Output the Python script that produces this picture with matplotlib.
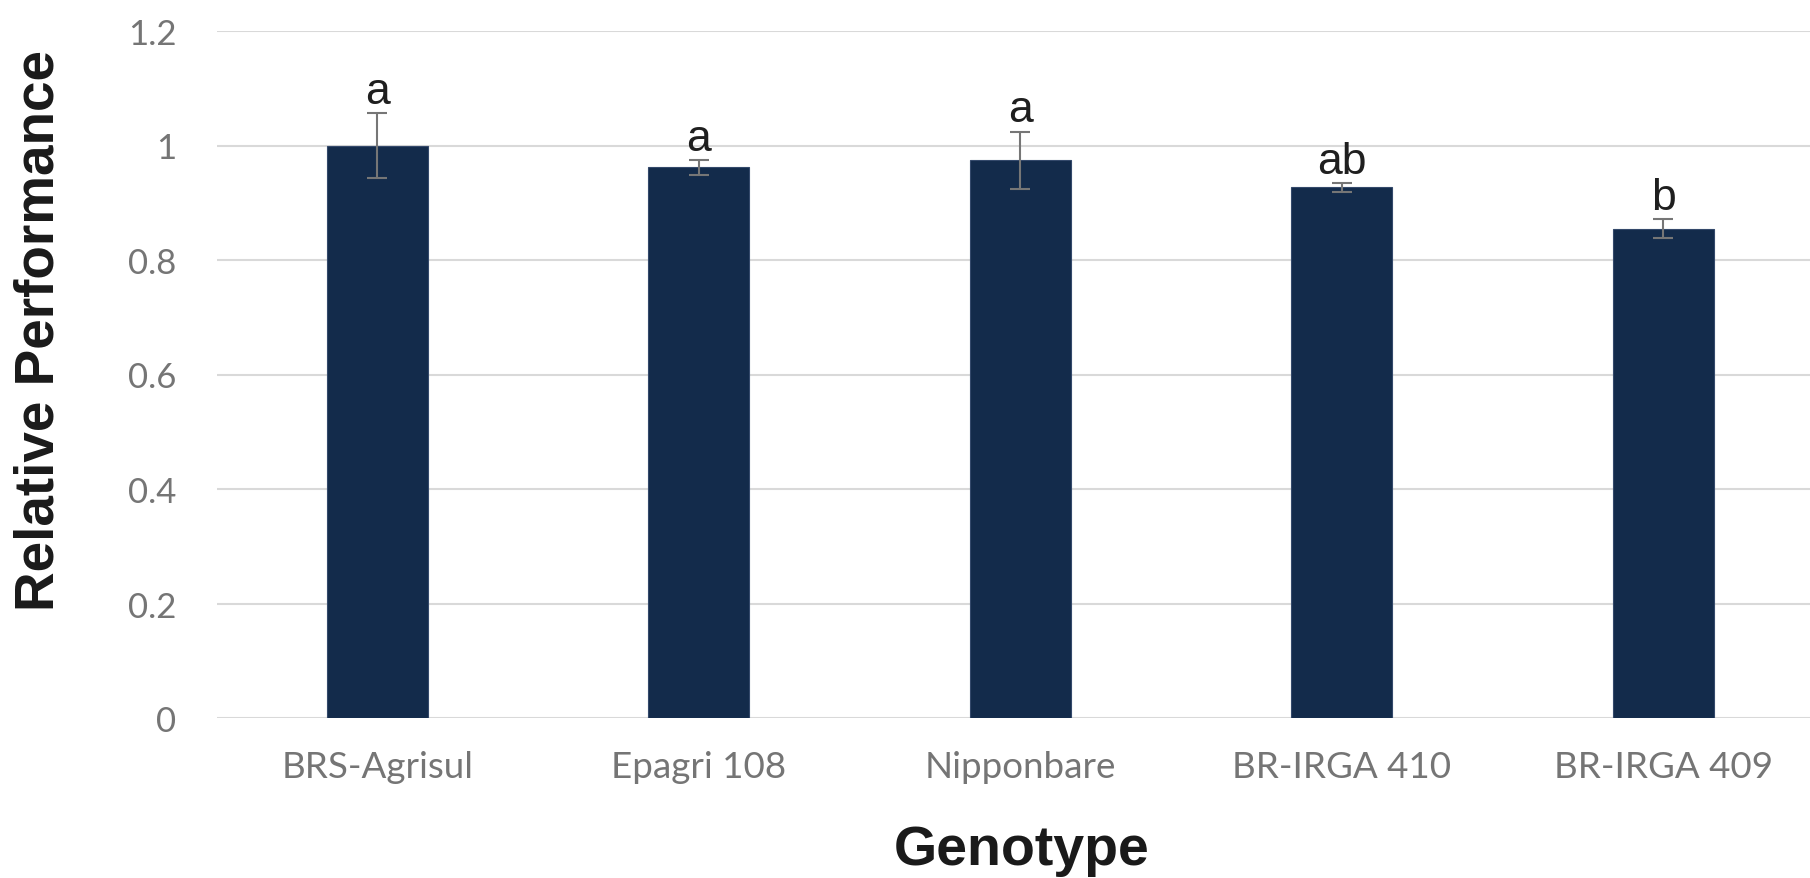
import matplotlib
matplotlib.use("Agg")
import matplotlib.pyplot as plt

# values
genotypes = ["BRS-Agrisul", "Epagri 108", "Nipponbare", "BR-IRGA 410", "BR-IRGA 409"]
performance = [1.000, 0.962, 0.974, 0.927, 0.855]
errors = [0.057, 0.013, 0.050, 0.0075, 0.016]
letters = ["a", "a", "a", "ab", "b"]
yticks = [0, 0.2, 0.4, 0.6, 0.8, 1.0, 1.2]
ytick_labels = ["0", "0.2", "0.4", "0.6", "0.8", "1", "1.2"]

W, H = 1810, 879
fig = plt.figure(figsize=(W / 100, H / 100), dpi=100)
ax = fig.add_axes([216.7 / W, 1 - 719 / H, (1824 - 216.7) / W, (719 - 32) / H])

x = range(len(genotypes))
ax.bar(x, performance, width=0.314, color="#132B4B", edgecolor="#34496b",
       linewidth=0.8, zorder=3)
ax.errorbar(x, performance, yerr=errors, fmt="none", ecolor="#767676",
            elinewidth=1.5, capsize=7.2, capthick=1.5, zorder=4)

# significance letters above the error bars
for i, (v, e, lab) in enumerate(zip(performance, errors, letters)):
    ax.text(i, v + e + 0.018, lab, ha="center", va="baseline", fontsize=32,
            family="Liberation Sans", color="#1f1f1f", zorder=5)

ax.set_xlim(-0.5, 4.5)
ax.set_ylim(0, 1.2)
ax.set_yticks(yticks)
ax.set_yticklabels(ytick_labels)
ax.set_xticks(list(x))
ax.set_xticklabels(genotypes)

for lab in ax.get_yticklabels():
    lab.set_family("Lato")
    lab.set_fontsize(25)
    lab.set_color("#757575")
for lab in ax.get_xticklabels():
    lab.set_family("Lato")
    lab.set_fontsize(26.5)
    lab.set_color("#757575")

ax.tick_params(axis="y", length=0, pad=29)
ax.tick_params(axis="x", length=0, pad=23)

ax.grid(axis="y", color="#d9d9d9", linewidth=1.5, zorder=0)
for s in ax.spines.values():
    s.set_visible(False)

fig.text(40 / W, 1 - 330.7 / H, "Relative Performance", rotation=90,
         ha="center", va="center", fontsize=39.5, fontweight="bold",
         family="Liberation Sans", color="#1a1a1a")
fig.text(1022 / W, 1 - 865 / H, "Genotype", ha="center", va="baseline",
         fontsize=40, fontweight="bold", family="Liberation Sans", color="#1a1a1a")

fig.savefig("out.png", dpi=100)
